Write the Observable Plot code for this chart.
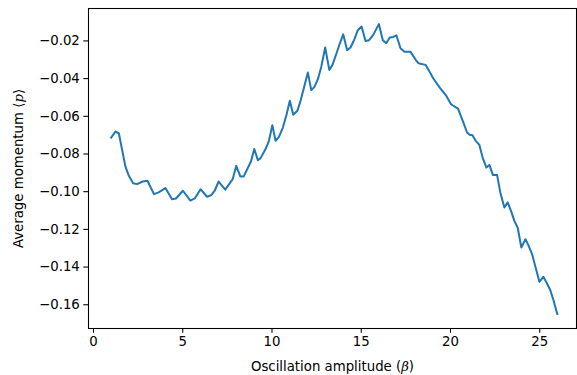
<!DOCTYPE html>
<html>
<head>
<meta charset="utf-8">
<script src="https://cdn.jsdelivr.net/npm/d3@7"></script>
<script src="https://cdn.jsdelivr.net/npm/@observablehq/plot@0.6"></script>
<style>
  html, body { margin: 0; padding: 0; background: #fff; }
  #chart svg { display: block; }
</style>
</head>
<body>
<div id="chart"></div>
<script>
const amplitude = [0.99,1.23,1.42,1.79,1.98,2.22,2.44,2.76,3.02,3.39,3.65,4.03,4.40,4.62,5.01,5.43,5.67,6.00,6.36,6.60,6.79,7.01,7.16,7.38,7.80,8.00,8.23,8.41,8.82,9.01,9.21,9.36,9.64,9.83,10.02,10.20,10.39,10.61,10.82,11.00,11.19,11.42,11.60,11.79,12.01,12.20,12.38,12.57,12.76,12.98,13.21,13.39,13.61,13.80,13.99,14.21,14.40,14.62,14.81,15.02,15.24,15.44,15.67,15.99,16.21,16.40,16.60,16.79,16.97,17.20,17.42,17.76,18.05,18.20,18.60,18.78,19.03,19.40,19.77,20.03,20.42,20.65,20.93,21.07,21.23,21.41,21.62,21.80,22.01,22.18,22.38,22.61,22.79,23.02,23.20,23.39,23.58,23.77,23.97,24.20,24.38,24.57,24.77,24.98,25.20,25.41,25.59,25.78,25.98];
const momentum = [-0.0713,-0.0681,-0.0690,-0.0867,-0.0916,-0.0955,-0.0960,-0.0946,-0.0942,-0.1013,-0.1004,-0.0981,-0.1040,-0.1036,-0.0995,-0.1047,-0.1036,-0.0987,-0.1027,-0.1018,-0.0995,-0.0946,-0.0964,-0.0989,-0.0933,-0.0863,-0.0920,-0.0920,-0.0840,-0.0774,-0.0833,-0.0822,-0.0774,-0.0730,-0.0647,-0.0730,-0.0709,-0.0660,-0.0589,-0.0518,-0.0592,-0.0571,-0.0518,-0.0448,-0.0368,-0.0461,-0.0444,-0.0403,-0.0338,-0.0235,-0.0354,-0.0327,-0.0267,-0.0214,-0.0165,-0.0249,-0.0235,-0.0191,-0.0143,-0.0124,-0.0200,-0.0196,-0.0168,-0.0111,-0.0196,-0.0212,-0.0182,-0.0179,-0.0170,-0.0239,-0.0258,-0.0258,-0.0300,-0.0318,-0.0327,-0.0355,-0.0398,-0.0448,-0.0492,-0.0536,-0.0559,-0.0615,-0.0686,-0.0698,-0.0700,-0.0730,-0.0752,-0.0819,-0.0872,-0.0858,-0.0912,-0.0911,-0.1004,-0.1084,-0.1057,-0.1102,-0.1155,-0.1193,-0.1296,-0.1252,-0.1287,-0.1331,-0.1402,-0.1478,-0.1452,-0.1487,-0.1522,-0.1579,-0.1649];
const xTicks = [0, 5, 10, 15, 20, 25];
const yTicks = [-0.16, -0.14, -0.12, -0.10, -0.08, -0.06, -0.04, -0.02];
const xLabel = "Oscillation amplitude (β)";
const yLabel = "Average momentum ⟨p⟩";

const data = amplitude.map((a, i) => ({a, m: momentum[i]}));
const fmt = (d) => d3.format(".2f")(d).replace("-", "\u2212");

const chart = Plot.plot({
  width: 577,
  height: 375,
  marginLeft: 88,
  marginRight: 1,
  marginTop: 8,
  marginBottom: 47,
  style: {fontFamily: "DejaVu Sans", fontSize: "13.3px", color: "#000", background: "#fff"},
  x: {domain: [-0.28, 27.06]},
  y: {domain: [-0.1726, -0.0028]},
  marks: [
    Plot.axisX({ticks: xTicks, tickSize: 4.7, tickPadding: 3, label: null, stroke: "#000", strokeWidth: 1.07, strokeOpacity: 1}),
    Plot.axisY({ticks: yTicks, tickSize: 4.7, tickPadding: 4, tickFormat: fmt, label: null, stroke: "#000", strokeWidth: 1.07, strokeOpacity: 1}),
    Plot.line(data, {x: "a", y: "m", stroke: "#1f77b4", strokeWidth: 2, strokeLinejoin: "round", strokeLinecap: "square"}),
    Plot.frame({stroke: "#000", strokeWidth: 1.07}),
    Plot.text([xLabel], {frameAnchor: "bottom", dy: 38, lineAnchor: "middle", textAnchor: "middle", fontSize: 13.3, fill: "#000"}),
    Plot.text([yLabel], {frameAnchor: "left", dx: -70, rotate: -90, lineAnchor: "middle", textAnchor: "middle", fontSize: 13.3, fill: "#000"})
  ]
});
document.getElementById("chart").appendChild(chart);

// italicize math symbols like the reference (mathtext)
d3.select(chart).selectAll("text").each(function () {
  const t = this.textContent;
  const parts = t === xLabel ? ["Oscillation amplitude (", "β", ")"] :
                t === yLabel ? ["Average momentum ⟨", "p", "⟩"] : null;
  if (!parts) return;
  const el = d3.select(this);
  el.text(null);
  el.append("tspan").text(parts[0]);
  el.append("tspan").attr("font-style", "italic").attr("font-family", "DejaVu Serif").text(parts[1]);
  el.append("tspan").text(parts[2]);
});
</script>
</body>
</html>
